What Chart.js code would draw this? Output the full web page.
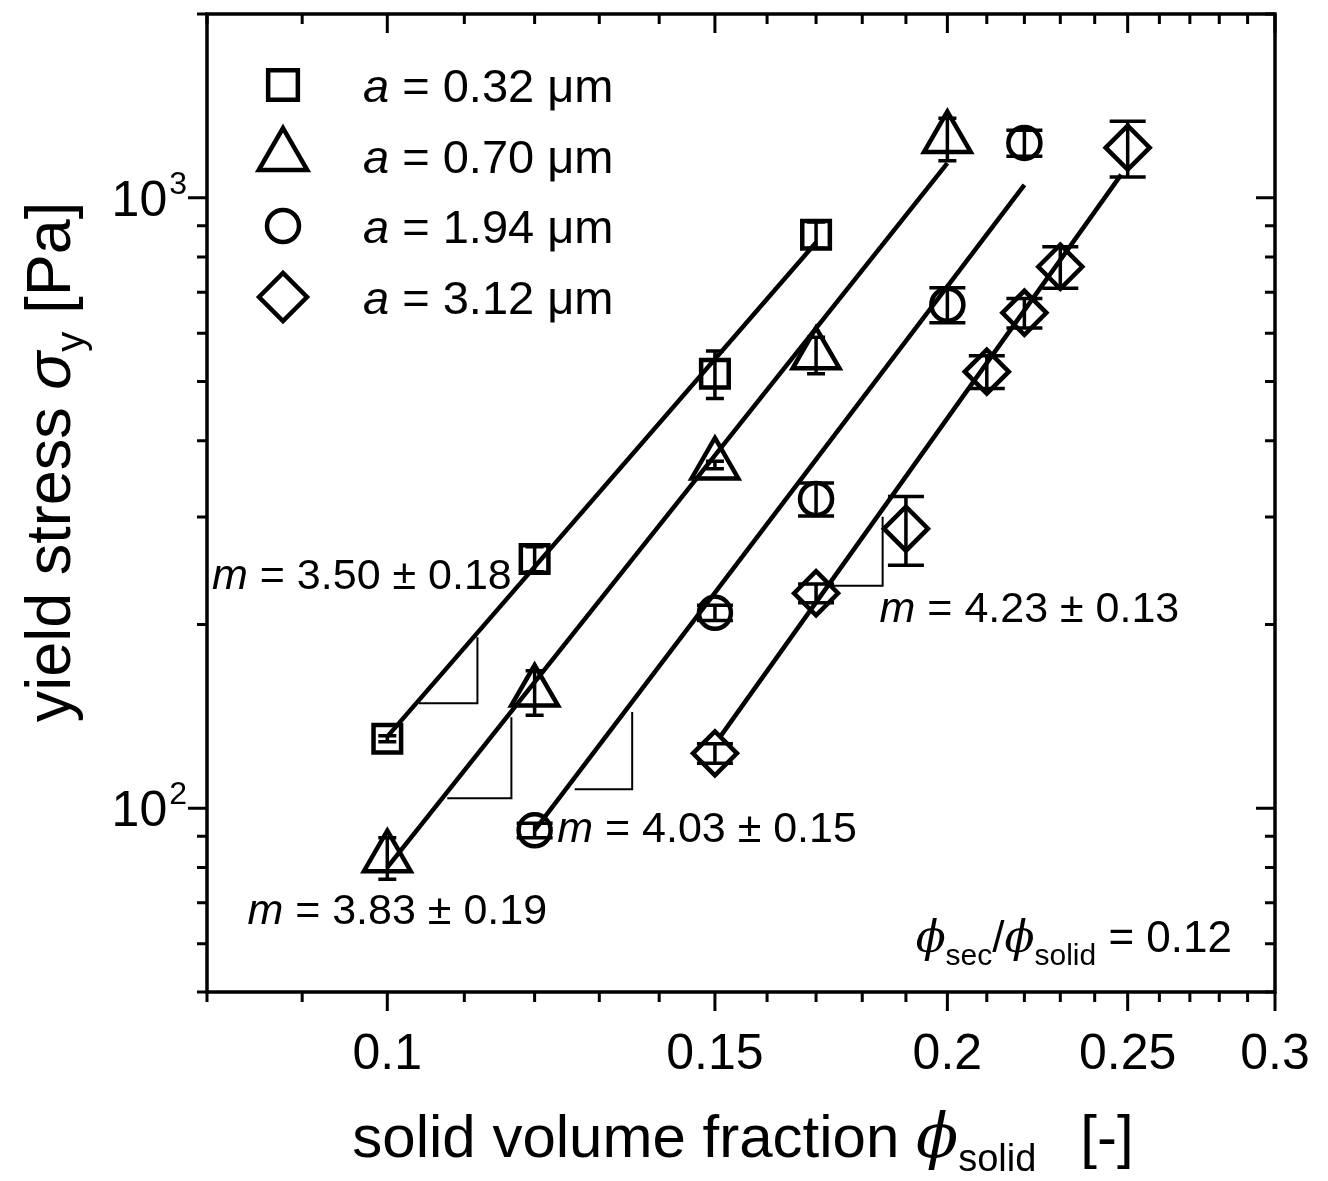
<!DOCTYPE html>
<html><head><meta charset="utf-8">
<script src="https://cdn.jsdelivr.net/npm/chart.js@4.4.1/dist/chart.umd.min.js"></script>
<style>html,body{margin:0;padding:0;background:#fff;}#wrap{width:1328px;height:1181px;}</style>
</head><body><div id="wrap"><canvas id="c" width="1328" height="1181"></canvas></div>
<script>
const FONT = "'Liberation Sans', Arial, Helvetica, sans-serif";
const PHI_FONT = "'DejaVu Serif', 'Liberation Serif', serif";

// ---- data ----
const particleSizes = ['0.32', '0.70', '1.94', '3.12'];
const phiA = [0.10, 0.12, 0.15, 0.17];
const sigA = [130, 256, 515, 870];
const errA = [1.5, 12, 46, 43];
const phiB = [0.10, 0.12, 0.15, 0.17, 0.20];
const sigB = [83, 155, 365, 553, 1250];
const errB = [6.5, 13, 5, 38, 100];
const phiC = [0.12, 0.15, 0.17, 0.20, 0.22];
const sigC = [92, 209, 321, 668, 1230];
const errC = [2.5, 6, 20, 44, 60];
const phiD = [0.15, 0.17, 0.19, 0.21, 0.22, 0.23, 0.25];
const sigD = [123, 225, 287, 519, 648, 771, 1208];
const errD = [4.5, 8, 37, 32, 36, 60, 127];
// power-law fit lines (end points)
const fitAx = [0.10, 0.17], fitAy = [131, 845];
const fitBx = [0.10, 0.20], fitBy = [80, 1140];
const fitCx = [0.12, 0.22], fitCy = [92, 1050];
const fitDx = [0.151, 0.248], fitDy = [131, 1091];
// slope triangles
const slopeAx = [0.1040, 0.1118, 0.1118], slopeAy = [148.6, 148.6, 190.6];
const slopeBx = [0.1077, 0.1166, 0.1166], slopeBy = [103.8, 103.8, 140.9];
const slopeCx = [0.1261, 0.1354, 0.1354], slopeCy = [107.4, 107.4, 143.7];
const slopeDx = [0.1735, 0.1846, 0.1846], slopeDy = [231.4, 231.4, 300.3];
const slopeLabels = ['3.50 ± 0.18', '3.83 ± 0.19', '4.03 ± 0.15', '4.23 ± 0.13'];
const ratioValue = '0.12';
// ticks
const xTicksMajor = [0.1, 0.15, 0.2, 0.25, 0.3];
const xTickLabels = ['0.1', '0.15', '0.2', '0.25', '0.3'];
const xTicksMinor = [0.08, 0.09, 0.11, 0.12, 0.13, 0.14, 0.16, 0.17, 0.18, 0.19, 0.21, 0.22, 0.23, 0.24, 0.26, 0.27, 0.28, 0.29];
const yTicksMajor = [100, 1000];
const yTickExponents = ['2', '3'];
const yTicksMinor = [50, 60, 70, 80, 90, 200, 300, 400, 500, 600, 700, 800, 900, 2000];

const pts = (xs, ys) => xs.map((x, i) => ({ x, y: ys[i] }));
const lineDs = (xs, ys, w) => ({ type: 'line', data: pts(xs, ys), borderColor: '#000', borderWidth: w,
  pointRadius: 0, fill: false, tension: 0, order: 2, borderCapStyle: 'butt' });
const markerStyles = [
  { style: 'rect', r: 19.5, lr: 21, cap: 18 },
  { style: 'triangle', r: 27, lr: 28, cap: 18 },
  { style: 'circle', r: 16, lr: 16, cap: 36 },
  { style: 'rectRot', r: 22, lr: 24, cap: 36 }
];
const markDs = (xs, ys, k) => ({ type: 'scatter', data: pts(xs, ys), pointStyle: markerStyles[k].style,
  pointRadius: markerStyles[k].r, pointBorderWidth: 4.5, borderWidth: 4.5, borderColor: '#000',
  pointBorderColor: '#000', backgroundColor: 'rgba(0,0,0,0)', pointBackgroundColor: 'rgba(0,0,0,0)',
  showLine: false, order: 1 });

const errSeries = [
  { x: phiA, y: sigA, e: errA, cap: markerStyles[0].cap },
  { x: phiB, y: sigB, e: errB, cap: markerStyles[1].cap },
  { x: phiC, y: sigC, e: errC, cap: markerStyles[2].cap },
  { x: phiD, y: sigD, e: errD, cap: markerStyles[3].cap }
];

function fnt(s) { return (s.it ? 'italic ' : '') + s.size + 'px ' + (s.fam || FONT); }
function rich(ctx, segs, x, y, align) {
  let w = 0;
  const ws = segs.map(s => { ctx.font = fnt(s); const m = (s.lead || 0) + ctx.measureText(s.t).width + (s.dx || 0); w += m; return m; });
  let cx = align === 'center' ? x - w / 2 : (align === 'right' ? x - w : x);
  segs.forEach((s, i) => { ctx.font = fnt(s); ctx.fillText(s.t, cx + (s.lead || 0), y + (s.dy || 0)); cx += ws[i]; });
}

const errorBarPlugin = {
  id: 'errorBars',
  afterDatasetsDraw(chart) {
    const { ctx, scales: { x, y } } = chart;
    ctx.save();
    ctx.strokeStyle = '#000'; ctx.lineWidth = 3.5; ctx.lineCap = 'butt';
    errSeries.forEach(s => {
      s.x.forEach((xv, i) => {
        const px = x.getPixelForValue(xv);
        const top = y.getPixelForValue(s.y[i] + s.e[i]);
        const bot = y.getPixelForValue(s.y[i] - s.e[i]);
        ctx.beginPath();
        ctx.moveTo(px, top); ctx.lineTo(px, bot);
        ctx.moveTo(px - s.cap / 2, top); ctx.lineTo(px + s.cap / 2, top);
        ctx.moveTo(px - s.cap / 2, bot); ctx.lineTo(px + s.cap / 2, bot);
        ctx.stroke();
      });
    });
    ctx.restore();
  }
};

const framePlugin = {
  id: 'frame',
  afterDraw(chart) {
    const { ctx, chartArea: a, scales: { x, y } } = chart;
    ctx.save();
    ctx.strokeStyle = '#000'; ctx.lineWidth = 3.5;
    ctx.strokeRect(a.left, a.top, a.right - a.left, a.bottom - a.top);
    const MAJ = 19, MIN = 10;
    ctx.lineWidth = 3;
    ctx.beginPath();
    const xt = (v, L) => { const p = x.getPixelForValue(v);
      ctx.moveTo(p, a.bottom); ctx.lineTo(p, a.bottom + L);
      ctx.moveTo(p, a.top); ctx.lineTo(p, a.top + L); };
    const yt = (v, L) => { const p = y.getPixelForValue(v);
      ctx.moveTo(a.left, p); ctx.lineTo(a.left - L, p);
      ctx.moveTo(a.right, p); ctx.lineTo(a.right - L, p); };
    xTicksMajor.forEach(v => xt(v, MAJ)); xTicksMinor.forEach(v => xt(v, MIN));
    yTicksMajor.forEach(v => yt(v, MAJ)); yTicksMinor.forEach(v => yt(v, MIN));
    ctx.stroke();

    ctx.fillStyle = '#000';
    ctx.textBaseline = 'alphabetic';
    // x tick labels
    ctx.font = '50px ' + FONT; ctx.textAlign = 'center';
    xTicksMajor.forEach((v, i) => ctx.fillText(xTickLabels[i], x.getPixelForValue(v), a.bottom + 77));
    ctx.textAlign = 'left';
    // y tick labels 10^n
    yTicksMajor.forEach((v, i) => {
      const p = y.getPixelForValue(v);
      ctx.font = '32px ' + FONT; const ew = ctx.measureText(yTickExponents[i]).width;
      ctx.font = '50px ' + FONT; const bw = ctx.measureText('10').width;
      const right = a.left - 20;
      ctx.fillText('10', right - ew - 2 - bw, p + 18);
      ctx.font = '32px ' + FONT; ctx.fillText(yTickExponents[i], right - ew, p - 4);
    });
    // axis titles
    rich(ctx, [
      { t: 'solid volume fraction ', size: 60 },
      { t: 'ϕ', it: true, size: 62, fam: PHI_FONT },
      { t: 'solid', size: 38, dy: 14, dx: 44 },
      { t: '[-]', size: 60 }
    ], (a.left + a.right) / 2 + 2, 1157, 'center');
    ctx.save();
    ctx.translate(70, 462); ctx.rotate(-Math.PI / 2);
    rich(ctx, [
      { t: 'yield stress ', size: 63 },
      { t: 'σ', it: true, size: 63 },
      { t: 'y', size: 40, dy: 14, dx: 18 },
      { t: '[Pa]', size: 63 }
    ], 0, 0, 'center');
    ctx.restore();

    // slope annotations (anchored in data coordinates)
    const ann = [
      { x: 0.0805, y: 241, k: 0 },
      { x: 0.0841, y: 68.0, k: 1 },
      { x: 0.1234, y: 92.7, k: 2 },
      { x: 0.1839, y: 212.8, k: 3 }
    ];
    ann.forEach(o => {
      rich(ctx, [{ t: 'm', it: true, size: 43 }, { t: ' = ' + slopeLabels[o.k], size: 43 }],
        x.getPixelForValue(o.x), y.getPixelForValue(o.y) + 14, 'left');
    });
    // ratio annotation
    rich(ctx, [
      { t: 'ϕ', it: true, size: 44, fam: PHI_FONT },
      { t: 'sec', size: 30, dy: 13 },
      { t: '/', size: 44 },
      { t: 'ϕ', it: true, size: 44, fam: PHI_FONT },
      { t: 'solid', size: 30, dy: 13 },
      { t: ' = ' + ratioValue, size: 44 }
    ], a.right - 43, 952, 'right');

    // legend
    const rows = [85, 156, 226, 297];
    const H = Chart.helpers;
    rows.forEach((ry, k) => {
      const ms = markerStyles[k];
      ctx.save();
      ctx.lineWidth = 4.5; ctx.strokeStyle = '#000'; ctx.fillStyle = 'rgba(0,0,0,0)';
      H.drawPoint(ctx, { pointStyle: ms.style, radius: ms.lr, borderWidth: 4.5, rotation: 0 }, 283, ry);
      ctx.restore();
      ctx.fillStyle = '#000';
      rich(ctx, [{ t: 'a', it: true, size: 47 }, { t: ' = ' + particleSizes[k] + ' μm', size: 47 }], 363, ry + 17, 'left');
    });
    ctx.restore();
  }
};

new Chart(document.getElementById('c'), {
  type: 'scatter',
  data: {
    datasets: [
      lineDs(fitAx, fitAy, 4.5), lineDs(fitBx, fitBy, 4.5), lineDs(fitCx, fitCy, 4.5), lineDs(fitDx, fitDy, 4.5),
      lineDs(slopeAx, slopeAy, 2), lineDs(slopeBx, slopeBy, 2), lineDs(slopeCx, slopeCy, 2), lineDs(slopeDx, slopeDy, 2),
      markDs(phiA, sigA, 0), markDs(phiB, sigB, 1), markDs(phiC, sigC, 2), markDs(phiD, sigD, 3)
    ]
  },
  options: {
    responsive: false, animation: false, devicePixelRatio: 1,
    layout: { autoPadding: false, padding: { top: 14, right: 53, left: 207, bottom: 189 } },
    plugins: { legend: { display: false }, tooltip: { enabled: false } },
    scales: {
      x: { type: 'logarithmic', min: 0.08, max: 0.3, display: false },
      y: { type: 'logarithmic', min: 50, max: 2000, display: false }
    }
  },
  plugins: [errorBarPlugin, framePlugin]
});
</script></body></html>
